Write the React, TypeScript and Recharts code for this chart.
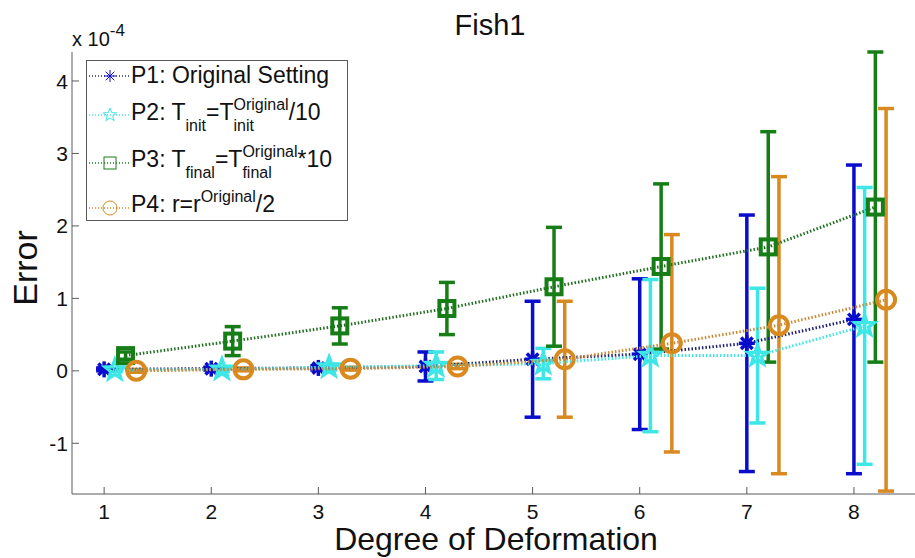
import React from "react"
import { ScatterChart, Scatter, XAxis, YAxis, ErrorBar } from "recharts"

// degree of deformation (x categories)
const degrees = [1, 2, 3, 4, 5, 6, 7, 8]
const xTicks = [1, 2, 3, 4, 5, 6, 7, 8]
const yTicks = [-1, 0, 1, 2, 3, 4]

// errors in units of 1e-4
const p1Mean = [0.02, 0.03, 0.04, 0.06, 0.16, 0.23, 0.38, 0.71]
const p1Err = [0.02, 0.02, 0.03, 0.2, 0.8, 1.04, 1.77, 2.13]
const p2Mean = [0.01, 0.02, 0.05, 0.07, 0.1, 0.21, 0.21, 0.62]
const p2Err = [0.02, 0.03, 0.04, 0.19, 0.21, 1.05, 0.93, 1.91]
const p3Mean = [0.21, 0.41, 0.62, 0.86, 1.16, 1.44, 1.71, 2.26]
const p3Err = [0.05, 0.2, 0.25, 0.36, 0.82, 1.14, 1.59, 2.14]
const p4Mean = [0.0, 0.02, 0.03, 0.06, 0.16, 0.38, 0.63, 0.98]
const p4Err = [0.02, 0.02, 0.02, 0.03, 0.8, 1.5, 2.05, 2.64]

const FONT = '"Liberation Sans", Arial, Helvetica, sans-serif'
const AXIS = "#5a5a5a"

const blue = "#0a0ccc"
const cyan = "#3ee6e6"
const green = "#177d17"
const orange = "#d8891f"

const xDomain = [0.7, 8.57]
const yDomain = [-1.7, 4.4]

const toPoints = (means: number[], errs: number[], shift: number) =>
  degrees.map((d, i) => ({ x: d + shift, y: means[i], err: errs[i] }))

const p1 = toPoints(p1Mean, p1Err, 0)
const p2 = toPoints(p2Mean, p2Err, 0.1)
const p3 = toPoints(p3Mean, p3Err, 0.2)
const p4 = toPoints(p4Mean, p4Err, 0.3)

function Asterisk({ cx, cy, color, r = 8, sw = 3.5 }: any) {
  const d = r * 0.72
  return (
    <g stroke={color} strokeWidth={sw} fill="none">
      <line x1={cx - r} y1={cy} x2={cx + r} y2={cy} />
      <line x1={cx} y1={cy - r} x2={cx} y2={cy + r} />
      <line x1={cx - d} y1={cy - d} x2={cx + d} y2={cy + d} />
      <line x1={cx - d} y1={cy + d} x2={cx + d} y2={cy - d} />
    </g>
  )
}

function Pentagram({ cx, cy, color, r = 10, sw = 3.5 }: any) {
  const pts: string[] = []
  for (let k = 0; k < 10; k++) {
    const a = ((-90 + k * 36) * Math.PI) / 180
    const rr = k % 2 === 0 ? r : r * 0.42
    pts.push(`${cx + rr * Math.cos(a)},${cy + rr * Math.sin(a)}`)
  }
  return <polygon points={pts.join(" ")} stroke={color} strokeWidth={sw} fill="none" />
}

function Square({ cx, cy, color, r = 7.5, sw = 4 }: any) {
  return <rect x={cx - r} y={cy - r} width={2 * r} height={2 * r} stroke={color} strokeWidth={sw} fill="none" />
}

function Circ({ cx, cy, color, r = 9, sw = 4 }: any) {
  return <circle cx={cx} cy={cy} r={r} stroke={color} strokeWidth={sw} fill="none" />
}

const LeftTick = ({ x, y, payload }: any) => (
  <g>
    <line x1={x + 4} x2={x + 11} y1={y} y2={y} stroke={AXIS} />
    <text x={x} y={y} dy="0.36em" textAnchor="end" fontSize={21} fontFamily={FONT} fill="#111">
      {payload.value}
    </text>
  </g>
)
const RightTick = ({ x, y }: any) => <line x1={x} x2={x - 6} y1={y} y2={y} stroke={AXIS} />
const BottomTick = ({ x, y, payload }: any) => (
  <g>
    <line x1={x} x2={x} y1={y} y2={y - 7} stroke={AXIS} />
    <text x={x} y={y + 25} textAnchor="middle" fontSize={21} fontFamily={FONT} fill="#111">
      {payload.value}
    </text>
  </g>
)
const TopTick = ({ x, y }: any) => <line x1={x} x2={x} y1={y} y2={y + 7} stroke={AXIS} />

const dotted = (stroke: string) => ({ stroke, strokeWidth: 3, strokeDasharray: "1.5 2" })

const sub: React.CSSProperties = { position: "relative", top: 11, fontSize: 16 }
const sup: React.CSSProperties = { position: "relative", top: -10, fontSize: 16 }

function Stack({ top, bottom }: { top: string; bottom: string }) {
  return (
    <span style={{ display: "inline-block", position: "relative", fontSize: 16, lineHeight: "16px" }}>
      <span style={{ position: "relative", top: -10 }}>{top}</span>
      <span style={{ position: "absolute", left: 0, top: 11 }}>{bottom}</span>
    </span>
  )
}

function LegendBox() {
  const rows = [
    { base: 83, mid: 76, line: "#28286a", mark: <Asterisk cx={110} cy={76} color={blue} r={6} sw={1} /> },
    { base: 120, mid: 115, line: cyan, mark: <Pentagram cx={110} cy={115} color={cyan} r={7} sw={1} /> },
    { base: 167, mid: 163, line: green, mark: <Square cx={110} cy={163} color={green} r={6} sw={1} /> },
    { base: 212, mid: 208, line: orange, mark: <Circ cx={110} cy={208} color={orange} r={7} sw={1} /> },
  ]
  const texts = [
    <>P1: Original Setting</>,
    <>
      P2: T<span style={sub}>init</span>=T<Stack top="Original" bottom="init" />/10
    </>,
    <>
      P3: T<span style={sub}>final</span>=T<Stack top="Original" bottom="final" />*10
    </>,
    <>
      P4: r=r<span style={sup}>Original</span>/2
    </>,
  ]
  return (
    <>
      <div
        style={{
          position: "absolute",
          left: 86,
          top: 60,
          width: 262,
          height: 161,
          boxSizing: "border-box",
          border: `1px solid ${AXIS}`,
          background: "#fff",
        }}
      />
      <svg width={915} height={558} style={{ position: "absolute", left: 0, top: 0, pointerEvents: "none" }}>
        {rows.map((r, i) => (
          <g key={i}>
            <line x1={89} x2={129} y1={r.mid} y2={r.mid} stroke={r.line} strokeWidth={1.5} strokeDasharray="1 2" />
            {r.mark}
          </g>
        ))}
      </svg>
      {rows.map((r, i) => (
        <div
          key={i}
          style={{
            position: "absolute",
            left: 131,
            top: r.base - 19.5,
            fontSize: 23,
            lineHeight: "23px",
            whiteSpace: "nowrap",
            fontFamily: FONT,
            color: "#111",
          }}
        >
          {texts[i]}
        </div>
      ))}
    </>
  )
}

export default function App() {
  return (
    <div
      style={{
        position: "absolute",
        left: 0,
        top: 0,
        width: 915,
        height: 558,
        overflow: "hidden",
        background: "#fff",
        fontFamily: FONT,
      }}
    >
      <ScatterChart width={915} height={558} margin={{ top: 52, right: 0, bottom: 0, left: 0 }}>
        <XAxis
          xAxisId="b"
          type="number"
          dataKey="x"
          domain={xDomain}
          ticks={xTicks}
          allowDataOverflow
          height={64}
          tickSize={0}
          tickMargin={0}
          tickLine={false}
          axisLine={{ stroke: AXIS }}
          tick={<BottomTick />}
        />
        <XAxis
          xAxisId="t"
          orientation="top"
          type="number"
          dataKey="x"
          domain={xDomain}
          ticks={xTicks}
          allowDataOverflow
          height={0}
          tickSize={0}
          tickMargin={0}
          tickLine={false}
          axisLine={{ stroke: AXIS }}
          tick={<TopTick />}
        />
        <YAxis
          yAxisId="l"
          type="number"
          dataKey="y"
          domain={yDomain}
          ticks={yTicks}
          allowDataOverflow
          width={72}
          tickSize={0}
          tickMargin={4}
          tickLine={false}
          axisLine={{ stroke: AXIS }}
          tick={<LeftTick />}
        />
        <YAxis
          yAxisId="r"
          orientation="right"
          type="number"
          dataKey="y"
          domain={yDomain}
          ticks={yTicks}
          allowDataOverflow
          width={0}
          tickSize={0}
          tickMargin={0}
          tickLine={false}
          axisLine={false}
          tick={<RightTick />}
        />
        <Scatter
          xAxisId="b"
          yAxisId="l"
          data={p1}
          isAnimationActive={false}
          line={dotted("#22226e")}
          lineJointType="linear"
          shape={(p: any) => <Asterisk cx={p.cx} cy={p.cy} color={blue} />}
        >
          <ErrorBar dataKey="err" direction="y" width={8} strokeWidth={3.5} stroke={blue} />
        </Scatter>
        <Scatter
          xAxisId="b"
          yAxisId="l"
          data={p2}
          isAnimationActive={false}
          line={dotted(cyan)}
          lineJointType="linear"
          shape={(p: any) => <Pentagram cx={p.cx} cy={p.cy} color={cyan} />}
        >
          <ErrorBar dataKey="err" direction="y" width={8} strokeWidth={3.5} stroke={cyan} />
        </Scatter>
        <Scatter
          xAxisId="b"
          yAxisId="l"
          data={p3}
          isAnimationActive={false}
          line={dotted("#1f6e1f")}
          lineJointType="linear"
          shape={(p: any) => <Square cx={p.cx} cy={p.cy} color={green} />}
        >
          <ErrorBar dataKey="err" direction="y" width={8} strokeWidth={3.5} stroke={green} />
        </Scatter>
        <Scatter
          xAxisId="b"
          yAxisId="l"
          data={p4}
          isAnimationActive={false}
          line={dotted("#c98a38")}
          lineJointType="linear"
          shape={(p: any) => <Circ cx={p.cx} cy={p.cy} color={orange} />}
        >
          <ErrorBar dataKey="err" direction="y" width={8} strokeWidth={3.5} stroke={orange} />
        </Scatter>
      </ScatterChart>

      <svg width={915} height={558} style={{ position: "absolute", left: 0, top: 0, pointerEvents: "none" }}>
        <text x={490} y={35} textAnchor="middle" fontSize={29} fontFamily={FONT} fill="#111">
          Fish1
        </text>
        <text x={72} y={46} fontSize={20} fontFamily={FONT} fill="#111">
          x 10
          <tspan dy={-10} fontSize={17}>
            -4
          </tspan>
        </text>
        <text
          x={0}
          y={0}
          transform="translate(37 268) rotate(-90)"
          textAnchor="middle"
          fontSize={34}
          fontFamily={FONT}
          fill="#111"
        >
          Error
        </text>
        <text x={496} y={550} textAnchor="middle" fontSize={32} fontFamily={FONT} fill="#111">
          Degree of Deformation
        </text>
      </svg>
      <LegendBox />
    </div>
  )
}
